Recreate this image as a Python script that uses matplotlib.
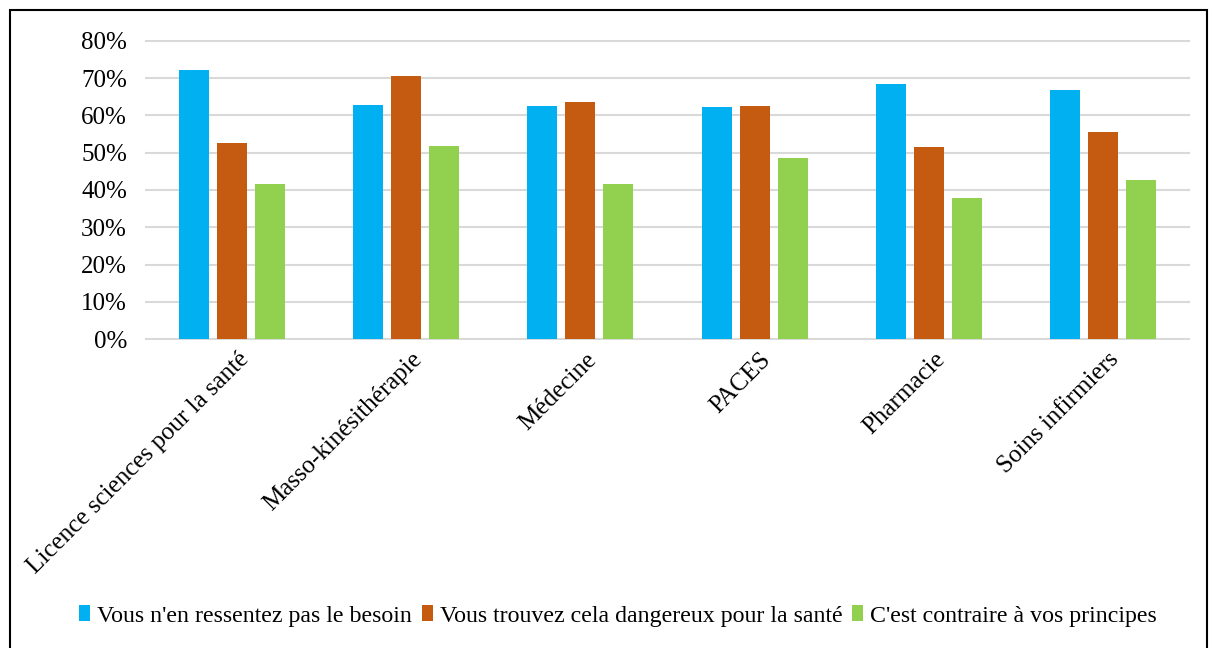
import matplotlib.pyplot as plt
import numpy as np
from matplotlib.patches import Rectangle

plt.rcParams['font.family'] = ['Liberation Serif', 'DejaVu Serif']

# data
categories = ['Licence sciences pour la santé', 'Masso-kinésithérapie', 'Médecine',
              'PACES', 'Pharmacie', 'Soins infirmiers']
besoin = [72.2, 62.9, 62.4, 62.3, 68.4, 66.7]
dangereux = [52.7, 70.5, 63.6, 62.6, 51.5, 55.6]
principes = [41.6, 51.9, 41.6, 48.6, 37.9, 42.8]
series_names = ["Vous n'en ressentez pas le besoin",
                "Vous trouvez cela dangereux pour la santé",
                "C'est contraire à vos principes"]
colors = ['#00b0f0', '#c55a11', '#92d050']

fig = plt.figure(figsize=(12.13, 6.48), dpi=100)
ax = fig.add_axes([145 / 1213, 1 - 340 / 648, 1045 / 1213, 300 / 648])

x = np.arange(len(categories))
w = 0.172
step = 0.218
for i, (vals, name, c) in enumerate(zip([besoin, dangereux, principes], series_names, colors)):
    ax.bar(x + (i - 1) * step, np.array(vals) / 100, width=w, color=c, label=name, zorder=3)

ticks = np.arange(0, 0.81, 0.1)
ax.set_xlim(-0.5, len(categories) - 0.5)
ax.set_ylim(-0.002, 0.802)
ax.set_yticks(ticks)
ax.set_yticklabels([f'{int(round(v * 100))}%' for v in ticks], fontsize=18)
ax.grid(axis='y', color='#d9d9d9', linewidth=1.5, zorder=0)
for s in ax.spines.values():
    s.set_visible(False)
ax.tick_params(axis='y', length=0, pad=13)
ax.set_xticks(x + 0.03)
ax.set_xticklabels(categories, rotation=45, ha='right', rotation_mode='anchor', fontsize=18)
ax.tick_params(axis='x', length=0, pad=6)

fig.legend(loc='center', bbox_to_anchor=(618 / 1213, 1 - 616 / 648), ncol=3, frameon=False,
           fontsize=17.2, handlelength=0.45, handleheight=0.6, handletextpad=0.3,
           columnspacing=0.4)

fig.patches.append(Rectangle((10 / 1213, -0.01), 1197 / 1213, 1 - 10 / 648 + 0.01,
                             transform=fig.transFigure, fill=False, edgecolor='black',
                             linewidth=1.5))

fig.savefig('out.png', dpi=100)
